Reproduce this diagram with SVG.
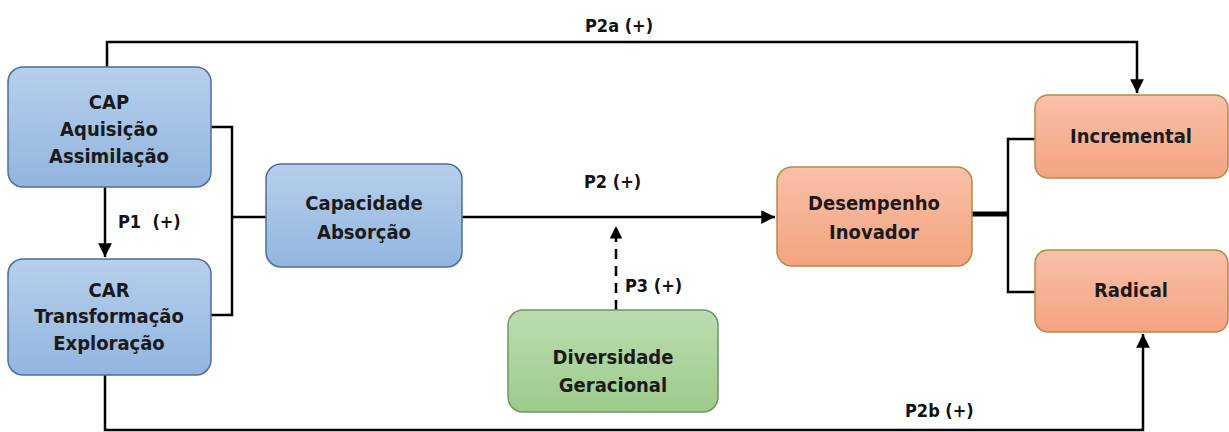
<svg xmlns="http://www.w3.org/2000/svg" width="1229" height="432" viewBox="0 0 1229 432">
<defs>
<linearGradient id="gBlue" x1="0" y1="0" x2="0" y2="1"><stop offset="0" stop-color="#b7cfec"/><stop offset="1" stop-color="#92b5df"/></linearGradient>
<linearGradient id="gGreen" x1="0" y1="0" x2="0" y2="1"><stop offset="0" stop-color="#bcdcb0"/><stop offset="1" stop-color="#9ccb8a"/></linearGradient>
<linearGradient id="gOrange" x1="0" y1="0" x2="0" y2="1"><stop offset="0" stop-color="#f9c0a8"/><stop offset="1" stop-color="#f4a381"/></linearGradient>
<marker id="arr" viewBox="0 0 10 10" refX="10" refY="5" markerWidth="5.5" markerHeight="5.5" orient="auto" markerUnits="strokeWidth"><path d="M0,0 L10,5 L0,10 z" fill="#000"/></marker>
<marker id="arrD" viewBox="0 0 10 10" refX="10" refY="5" markerWidth="5" markerHeight="5" orient="auto" markerUnits="strokeWidth"><path d="M0,0 L10,5 L0,10 z" fill="#000"/></marker>
</defs>
<style>
.blue{fill:url(#gBlue);stroke:#4e6e9c;stroke-width:1.5}
.green{fill:url(#gGreen);stroke:#6d9660;stroke-width:1.5}
.orange{fill:url(#gOrange);stroke:#b38c45;stroke-width:1.5}
.t{font-family:"DejaVu Sans Condensed","DejaVu Sans",sans-serif;font-size:20px;font-weight:bold;fill:#1a1a1a;text-anchor:middle}
.lbl{font-family:"DejaVu Sans Condensed","DejaVu Sans",sans-serif;font-size:18px;font-weight:bold;fill:#111}
.c{fill:none;stroke:#000;stroke-width:2.5}
</style>
<g id="connectors">
<path class="c" d="M107,67 V42 H1137 V93" marker-end="url(#arr)"/>
<path class="c" d="M105,375 V430 H1143 V334" marker-end="url(#arr)"/>
<path class="c" d="M105,187 V257" marker-end="url(#arr)"/>
<path class="c" d="M211,127 H232 V315 H211"/>
<path class="c" d="M232,217 H266"/>
<path class="c" d="M462,217 H775" marker-end="url(#arr)"/>
<path class="c" stroke-dasharray="10,7" d="M616,310 V226" marker-end="url(#arrD)"/>
<path fill="none" stroke="#000" stroke-width="5" d="M972,214 H1008"/>
<path class="c" d="M1035,139 H1008 V292 H1035"/>
<text class="lbl" x="585" y="32">P2a (+)</text>
<text class="lbl" x="905" y="417">P2b (+)</text>
<text class="lbl" x="118" y="228" xml:space="preserve">P1  (+)</text>
<text class="lbl" x="584" y="188">P2 (+)</text>
<text class="lbl" x="625" y="292">P3 (+)</text>
</g>
<g id="cap"><rect class="blue" x="8" y="67" width="203" height="120" rx="15"/>
<text class="t" x="109" y="109">CAP</text><text class="t" x="109" y="136">Aquisição</text><text class="t" x="109" y="163">Assimilação</text></g>
<g id="car"><rect class="blue" x="8" y="259" width="203" height="116" rx="15"/>
<text class="t" x="109" y="297">CAR</text><text class="t" x="109" y="323">Transformação</text><text class="t" x="109" y="350">Exploração</text></g>
<g id="capacidade"><rect class="blue" x="266" y="164" width="196" height="103" rx="15"/>
<text class="t" x="364" y="210">Capacidade</text><text class="t" x="364" y="239">Absorção</text></g>
<g id="diversidade"><rect class="green" x="508" y="310" width="210" height="102" rx="15"/>
<text class="t" x="613" y="364">Diversidade</text><text class="t" x="613" y="392">Geracional</text></g>
<g id="desempenho"><rect class="orange" x="777" y="167" width="195" height="99" rx="15"/>
<text class="t" x="874" y="210">Desempenho</text><text class="t" x="874" y="239">Inovador</text></g>
<g id="incremental"><rect class="orange" x="1035" y="95" width="193" height="83" rx="13"/>
<text class="t" x="1131" y="143">Incremental</text></g>
<g id="radical"><rect class="orange" x="1035" y="250" width="193" height="82" rx="13"/>
<text class="t" x="1131" y="297">Radical</text></g>
</svg>
